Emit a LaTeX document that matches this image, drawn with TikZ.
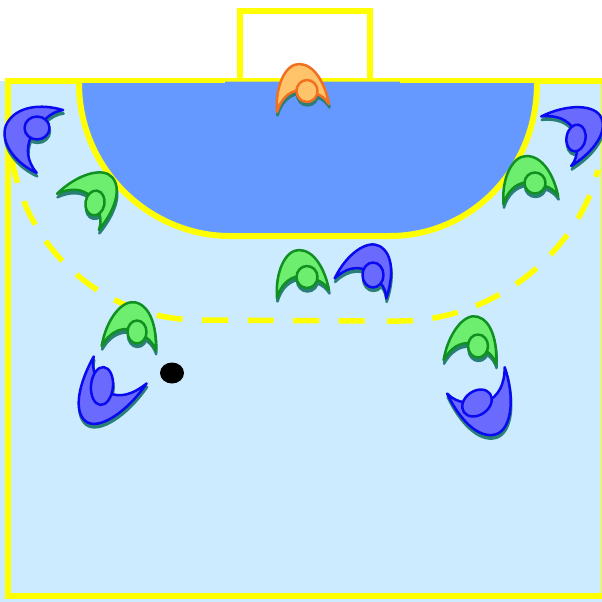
\documentclass[tikz,border=0pt]{standalone}
\definecolor{court}{HTML}{CCEBFF}
\definecolor{area}{HTML}{6699FF}
\definecolor{lineyellow}{HTML}{FFFF00}
\definecolor{shade}{HTML}{2A7F78}
\definecolor{bluefill}{HTML}{6A6AFF}
\definecolor{blueline}{HTML}{0A0AF0}
\definecolor{greenfill}{HTML}{6EEE6E}
\definecolor{greenline}{HTML}{109020}
\definecolor{orangefill}{HTML}{FFC46A}
\definecolor{orangeline}{HTML}{F07020}
\tikzset{
  bluep/.style={fill=bluefill,draw=blueline,line width=2.5pt,line join=round},
  greenp/.style={fill=greenfill,draw=greenline,line width=2.5pt,line join=round},
  orangep/.style={fill=orangefill,draw=orangeline,line width=2.5pt,line join=round},
  shadowp/.style={fill=shade,draw=shade,line width=2.5pt,line join=round},
  fieldline/.style={draw=lineyellow,line width=6pt},
  ninem/.style={draw=lineyellow,line width=5.5pt,dash pattern=on 26pt off 19.5pt}
}
\newcommand{\bodyshape}{(-30,21) .. controls (-32,-4) and (-22,-27) .. (-8,-27) .. controls (7,-27) and (18,-8) .. (22,13) .. controls (19,8) and (15,5) .. (10,3) -- (-8,-1) .. controls (-19,1) and (-26,8) .. cycle}
% #1 x, #2 y, #3 rotation, #4 sx, #5 sy, #6 head tilt, #7 head rx, #8 head ry, #9 style
\newcommand{\player}[9]{%
  \begin{scope}[shift={(#1+0.5,#2+3.5)},rotate=-#3]
    \begin{scope}[xscale=#4,yscale=#5]\path[shadowp] \bodyshape;\end{scope}
  \end{scope}
  \path[shadowp,rotate around={-#6:(#1+0.5,#2+3.5)}] (#1+0.5,#2+3.5) ellipse ({#7} and {#8});
  \begin{scope}[shift={(#1,#2)},rotate=-#3]
    \begin{scope}[xscale=#4,yscale=#5]\path[#9] \bodyshape;\end{scope}
  \end{scope}
  \path[#9,rotate around={-#6:(#1,#2)}] (#1,#2) ellipse ({#7} and {#8});
}
\begin{document}
\begin{tikzpicture}[x=1pt,y=-1pt]
\useasboundingbox (0,0) rectangle (602,602);
\fill[white] (0,0) rectangle (602,602);
\fill[court] (0,81) rectangle (602,602);
\draw[ninem,dash phase=18pt] (10,130) arc[start angle=180,end angle=270,radius=190pt] -- (370,321);
\draw[ninem] (387,321) -- (400,321) .. controls (480,321) and (560,270) .. (592,190) -- (598,170);
\draw[fieldline] (8,81) -- (604,81) -- (604,596) -- (8,596) -- cycle;
\draw[fieldline] (239.5,79) -- (239.5,11) -- (370,11) -- (370,79);
\path[fill=area] (79,83) .. controls (79,170) and (150,235) .. (230,235) -- (390,235) .. controls (470,235) and (537,170) .. (537,83) -- (400,83) -- (400,81.5) -- (225,81.5) -- (225,83) -- cycle;
\draw[fieldline] (79,83) .. controls (79,170) and (150,236) .. (230,236) -- (390,236) .. controls (470,236) and (537,170) .. (537,83);
\player{307}{91}{0}{1}{1}{0}{10.5}{11}{orangep}
\player{307}{277}{0}{1}{1}{0}{10.5}{11}{greenp}
\player{373}{275}{30}{1.05}{1.05}{0}{10.5}{12.5}{bluep}
\player{137}{332}{14}{1.03}{1.05}{0}{9.5}{11.5}{greenp}
\player{478}{346}{14}{1}{1.05}{0}{10}{11.5}{greenp}
\player{535}{183}{0}{1.05}{1}{0}{10.5}{10.5}{greenp}
\player{95}{203}{50}{1.05}{1.1}{10}{9.5}{12.5}{greenp}
\player{37}{128}{-60}{1.3}{1.05}{0}{12.5}{11.5}{bluep}
\player{576}{138}{68}{1.1}{1.15}{10}{9.5}{13.5}{bluep}
\player{102}{386}{218}{1.12}{1.4}{5}{11}{19}{bluep}
\player{477}{403}{165}{1.2}{1.3}{-35}{16}{12}{bluep}
\fill[black] (172,373) ellipse (12 and 10.5);
\end{tikzpicture}
\end{document}
